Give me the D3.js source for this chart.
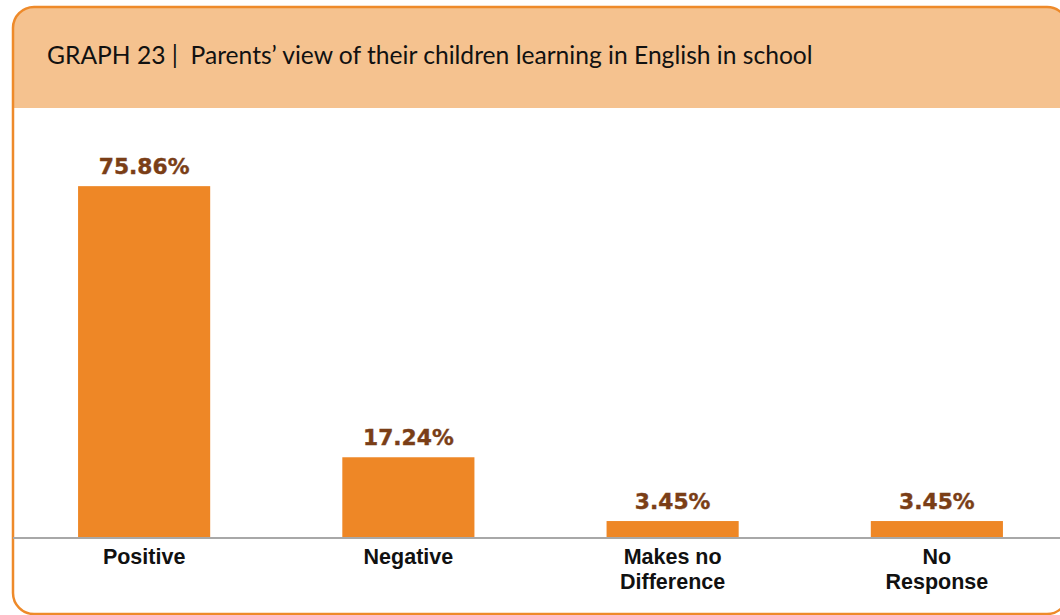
<!DOCTYPE html>
<html>
<head>
<meta charset="utf-8">
<script src="https://cdn.jsdelivr.net/npm/d3@7"></script>
<style>
  html, body { margin: 0; padding: 0; background: #ffffff; }
  svg { display: block; }
</style>
</head>
<body>
<svg id="chart" width="1060" height="615"></svg>
<script>
// Survey results: parents' view of their children learning in English
const title = "GRAPH 23 |  Parents\u2019 view of their children learning in English in school";
const categories = [["Positive"], ["Negative"], ["Makes no", "Difference"], ["No", "Response"]];
const values = [75.86, 17.24, 3.45, 3.45];
const valueLabels = ["75.86%", "17.24%", "3.45%", "3.45%"];

const svg = d3.select("#chart");
const W = 1060, H = 615;

// Card frame with rounded corners and a tinted header band
const frame = { x: 13, y: 7, w: 1055, h: 607, r: 21 };
const headerBottom = 108;

const defs = svg.append("defs");
defs.append("clipPath").attr("id", "cardClip")
  .append("rect")
  .attr("x", frame.x).attr("y", frame.y)
  .attr("width", frame.w).attr("height", frame.h)
  .attr("rx", frame.r).attr("ry", frame.r);

const card = svg.append("g").attr("clip-path", "url(#cardClip)");
card.append("rect")
  .attr("x", frame.x).attr("y", frame.y)
  .attr("width", frame.w).attr("height", frame.h)
  .attr("fill", "#ffffff");
card.append("rect")
  .attr("x", frame.x).attr("y", frame.y)
  .attr("width", frame.w).attr("height", headerBottom - frame.y)
  .attr("fill", "#F5C28F");

svg.append("rect")
  .attr("x", frame.x).attr("y", frame.y)
  .attr("width", frame.w).attr("height", frame.h)
  .attr("rx", frame.r).attr("ry", frame.r)
  .attr("fill", "none")
  .attr("stroke", "#EE8A2A")
  .attr("stroke-width", 2.5);

// Title
const titleText = svg.append("text")
  .attr("x", 47).attr("y", 63.5)
  .attr("font-family", "Lato, 'Open Sans', sans-serif")
  .attr("font-size", 21)
  .attr("fill", "#111111")
  .style("white-space", "pre")
  .attr("xml:space", "preserve")
  .text(title);
const tw = titleText.node().getComputedTextLength();
titleText.attr("font-size", 21 * 766 / tw);

// Scales
const x = d3.scaleBand()
  .domain(d3.range(values.length))
  .range([12, 1069])
  .paddingInner(0.5)
  .paddingOuter(0.25);

const baseY = 537;
const y = d3.scaleLinear()
  .domain([0, 80])
  .range([baseY, baseY - 80 * 4.625]);

// Bars
svg.append("g").selectAll("rect")
  .data(values)
  .join("rect")
  .attr("x", (d, i) => x(i))
  .attr("y", d => y(d))
  .attr("width", x.bandwidth())
  .attr("height", d => y(0) - y(d))
  .attr("fill", "#EE8726");

// Baseline axis
const axis = d3.axisBottom(x).tickSize(0).tickFormat("");
const axisG = svg.append("g").attr("transform", `translate(0,${baseY + 1})`).call(axis);
axisG.select(".domain").remove();
svg.append("line")
  .attr("x1", frame.x).attr("x2", W)
  .attr("y1", baseY + 1).attr("y2", baseY + 1)
  .attr("stroke", "#A8A8A8")
  .attr("stroke-width", 2);

// Value labels
svg.append("g").selectAll("text")
  .data(values)
  .join("text")
  .attr("x", (d, i) => x(i) + x.bandwidth() / 2)
  .attr("y", d => y(d) - 12.5)
  .attr("text-anchor", "middle")
  .attr("font-family", "'DejaVu Sans', sans-serif")
  .attr("font-weight", "bold")
  .attr("font-size", 21.8)
  .attr("fill", "#7A3E17")
  .attr("stroke", "#7A3E17")
  .attr("stroke-width", 0.4)
  .text((d, i) => valueLabels[i]);

// Category labels
const catG = svg.append("g");
categories.forEach((lines, i) => {
  const t = catG.append("text")
    .attr("x", x(i) + x.bandwidth() / 2)
    .attr("y", 563.5)
    .attr("text-anchor", "middle")
    .attr("font-family", "'Liberation Sans', Arial, sans-serif")
    .attr("font-weight", "bold")
    .attr("font-size", 21.5)
    .attr("fill", "#111111");
  lines.forEach((ln, j) => {
    t.append("tspan")
      .attr("x", x(i) + x.bandwidth() / 2)
      .attr("dy", j === 0 ? 0 : 25)
      .text(ln);
  });
});
</script>
</body>
</html>
